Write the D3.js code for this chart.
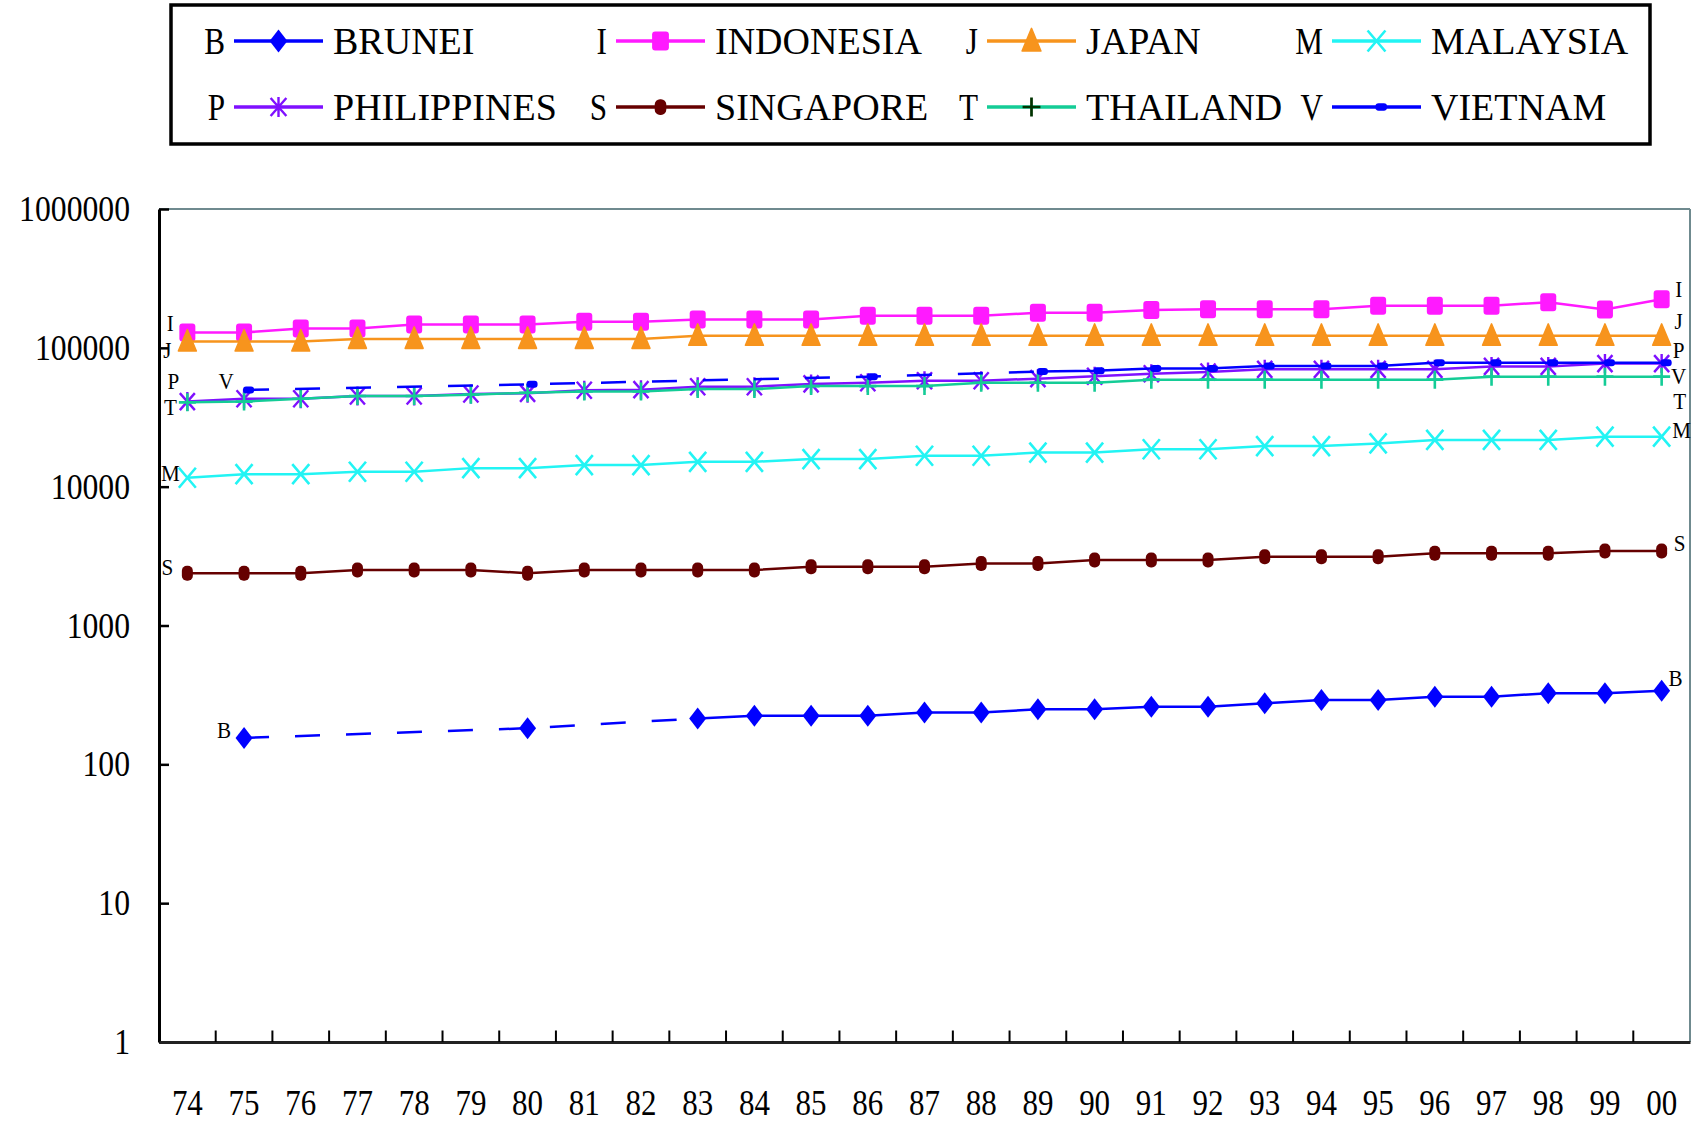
<!DOCTYPE html>
<html>
<head>
<meta charset="utf-8">
<script src="https://cdn.jsdelivr.net/npm/d3@7"></script>
<style>
html, body { margin: 0; padding: 0; background: #fff; }
svg { display: block; }
text { font-family: "Liberation Serif", "Times New Roman", serif; fill: #000; }
</style>
</head>
<body>
<svg id="chart" width="1697" height="1128"></svg>
<script>
// ---------------- DATA ----------------
const years = ["74","75","76","77","78","79","80","81","82","83","84","85","86","87","88","89","90","91","92","93","94","95","96","97","98","99","00"];
const yTickValues = [1, 10, 100, 1000, 10000, 100000, 1000000];

const brunei      = [null,155,null,null,null,null,182,null,null,214,224,224,224,236,236,249,249,260,260,275,291,291,307,307,325,325,339];
const indonesia   = [129000,129000,138000,138000,147000,147000,147000,154000,154000,160000,160000,160000,170000,170000,170000,179000,179000,187000,190000,190000,190000,201000,201000,201000,213000,189000,224000];
const japan       = [111000,111000,111000,116000,116000,116000,116000,116000,116000,122000,122000,122000,122000,122000,122000,122000,122000,122000,122000,122000,122000,122000,122000,122000,122000,122000,122000];
const malaysia    = [11600,12300,12300,12800,12800,13600,13600,14300,14300,15100,15100,15800,15800,16700,16700,17600,17600,18600,18600,19600,19600,20500,21700,21700,21700,22900,22900];
const philippines = [41000,43000,43000,45000,45000,46500,47000,49500,50000,52500,52500,55000,56000,58000,58000,60000,62500,65000,67000,70000,70000,70000,70000,73500,73500,77000,77000];
const singapore   = [2380,2380,2380,2510,2510,2510,2380,2510,2510,2510,2510,2650,2650,2650,2800,2800,2960,2960,2960,3130,3130,3130,3310,3310,3310,3440,3440];
const thailand    = [40500,41000,43000,45000,45000,46000,47500,48500,48500,50500,50500,53000,53000,53000,56000,56000,56000,59000,59000,59000,59000,59000,59000,62000,62000,62000,62000];
const vietnam     = [null,49700,null,null,null,null,54600,null,null,null,null,null,62000,null,null,67500,68300,71000,71000,74000,74000,74000,78000,78000,78000,78000,78000];

const seriesKeys   = ["B","I","J","M","P","S","T","V"];
const seriesNames  = ["BRUNEI","INDONESIA","JAPAN","MALAYSIA","PHILIPPINES","SINGAPORE","THAILAND","VIETNAM"];
const seriesValues = [brunei, indonesia, japan, malaysia, philippines, singapore, thailand, vietnam];

// ---------------- STYLE ----------------
const styles = {
  B: { color: "#0000ff", marker: "diamond",  left: [-20, -8],  right: [14, -13] },
  I: { color: "#ff1aff", marker: "square",   left: [-17, -9],  right: [17, -10] },
  J: { color: "#f7941d", marker: "triangle", left: [-20, 8],   right: [17, -15] },
  M: { color: "#22f4f4", marker: "x",        left: [-17, -5],  right: [20, -7] },
  P: { color: "#7f10ff", marker: "asterisk", left: [-14, -21], right: [17, -14] },
  S: { color: "#660000", marker: "pill",     left: [-20, -6],  right: [18, -8] },
  T: { color: "#14cc96", marker: "plus",     left: [-17, 5],   right: [18, 24], legendMarkerColor: "#003300" },
  V: { color: "#0000ff", marker: "bar",      left: [-18, -9],  right: [17, 13] }
};

const W = 1697, H = 1128;
const plot = { left: 159, right: 1690, top: 209, bottom: 1042 };

const svg = d3.select("#chart");
svg.append("rect").attr("width", W).attr("height", H).attr("fill", "#fff");

const x = d3.scaleBand().domain(years).range([plot.left, plot.right]).padding(0);
const xc = d => x(d) + x.bandwidth() / 2;
const y = d3.scaleLog().domain([1, 1000000]).range([plot.bottom, plot.top]);

function condense(sel, k) {
  sel.each(function () {
    const w = this.getComputedTextLength();
    d3.select(this).attr("textLength", w * k).attr("lengthAdjust", "spacingAndGlyphs");
  });
}

function drawMarker(g, type, color, scale) {
  const s = scale || 1;
  switch (type) {
    case "diamond":
      g.append("path").attr("d", `M0,${-11*s}L${8.5*s},0L0,${11*s}L${-8.5*s},0Z`).attr("fill", color);
      break;
    case "square":
      g.append("rect").attr("x", -8*s).attr("y", -9*s).attr("width", 16*s).attr("height", 18*s)
        .attr("rx", 3).attr("fill", color);
      break;
    case "triangle":
      g.append("path").attr("d", `M0,${-12*s}L${9*s},${9.5*s}L${-9*s},${9.5*s}Z`)
        .attr("fill", color).attr("stroke", color).attr("stroke-width", 1.5).attr("stroke-linejoin", "round");
      break;
    case "x":
      g.append("path").attr("d", `M${-8.5*s},${-10*s}L${8.5*s},${10*s}M${8.5*s},${-10*s}L${-8.5*s},${10*s}`)
        .attr("stroke", color).attr("stroke-width", 2.6).attr("fill", "none");
      break;
    case "asterisk":
      g.append("path").attr("d", `M${-7.5*s},${-8.5*s}L${7.5*s},${8.5*s}M${7.5*s},${-8.5*s}L${-7.5*s},${8.5*s}M0,${-9.5*s}L0,${9.5*s}`)
        .attr("stroke", color).attr("stroke-width", 2.4).attr("fill", "none");
      break;
    case "pill":
      g.append("rect").attr("x", -5.5*s).attr("y", -7.5*s).attr("width", 11*s).attr("height", 15*s)
        .attr("rx", 5*s).attr("fill", color);
      break;
    case "plus":
      g.append("path").attr("d", `M0,${-9*s}L0,${9*s}M${-8.5*s},0L${8.5*s},0`)
        .attr("stroke", color).attr("stroke-width", 2.6*s).attr("fill", "none");
      break;
    case "bar":
      g.append("rect").attr("x", -1*s).attr("y", -3.5*s).attr("width", 11*s).attr("height", 7*s)
        .attr("rx", 3*s).attr("fill", color);
      break;
  }
}

// ---------------- FRAME ----------------
svg.append("line").attr("x1", plot.left).attr("x2", plot.right).attr("y1", plot.top).attr("y2", plot.top)
  .attr("stroke", "#6f8a8f").attr("stroke-width", 2);
svg.append("line").attr("x1", plot.right).attr("x2", plot.right).attr("y1", plot.top).attr("y2", plot.bottom)
  .attr("stroke", "#6f8a8f").attr("stroke-width", 2);

// ---------------- Y AXIS ----------------
const yAxis = svg.append("g").attr("transform", `translate(${plot.left},0)`)
  .call(d3.axisLeft(y).tickValues(yTickValues).tickFormat(d3.format("d"))
    .tickSizeInner(-10).tickSizeOuter(0).tickPadding(29));
yAxis.select(".domain").attr("stroke", "#000").attr("stroke-width", 3);
yAxis.selectAll(".tick line").attr("stroke", "#000").attr("stroke-width", 2.5);
yAxis.selectAll(".tick text").attr("font-family", "Liberation Serif, Times New Roman, serif")
  .attr("font-size", 36).attr("fill", "#000").call(condense, 0.88);

// ---------------- X AXIS ----------------
const xAxis = svg.append("g").attr("transform", `translate(0,${plot.bottom})`)
  .call(d3.axisBottom(x).tickSize(0).tickPadding(0));
xAxis.select(".domain").attr("stroke", "#222").attr("stroke-width", 3.2);
xAxis.selectAll(".tick text").attr("font-family", "Liberation Serif, Times New Roman, serif")
  .attr("font-size", 36).attr("fill", "#000").attr("y", 73).attr("dy", 0).call(condense, 0.86);
xAxis.selectAll(".tickmark").data(years.slice(1)).enter().append("line")
  .attr("x1", d => x(d)).attr("x2", d => x(d)).attr("y1", 0).attr("y2", -11.5)
  .attr("stroke", "#000").attr("stroke-width", 2);

// ---------------- SERIES ----------------
const lineGen = d3.line().x(d => xc(years[d.i])).y(d => y(d.v));

seriesKeys.forEach((key, si) => {
  const st = styles[key];
  const vals = seriesValues[si];
  const pts = vals.map((v, i) => ({ i, v })).filter(d => d.v != null);
  const g = svg.append("g").attr("class", "series-" + key);

  const runs = [];
  for (let k = 0; k < pts.length - 1; k++) {
    const dashed = pts[k + 1].i - pts[k].i > 1;
    const last = runs[runs.length - 1];
    if (last && last.dashed === dashed) last.pts.push(pts[k + 1]);
    else runs.push({ dashed, pts: [pts[k], pts[k + 1]] });
  }
  runs.forEach(r => {
    g.append("path").attr("d", lineGen(r.pts)).attr("fill", "none")
      .attr("stroke", st.color).attr("stroke-width", 2.5)
      .attr("stroke-dasharray", r.dashed ? "25 26" : null);
  });

  pts.forEach(p => {
    const mg = g.append("g").attr("transform", `translate(${xc(years[p.i])},${y(p.v)})`);
    drawMarker(mg, st.marker, st.color, 1);
  });

  const first = pts[0], lastP = pts[pts.length - 1];
  g.append("text").attr("x", xc(years[first.i]) + st.left[0]).attr("y", y(first.v) + st.left[1])
    .attr("text-anchor", "middle").attr("dominant-baseline", "central")
    .attr("font-size", 24).text(key).call(condense, 0.88);
  g.append("text").attr("x", xc(years[lastP.i]) + st.right[0]).attr("y", y(lastP.v) + st.right[1])
    .attr("text-anchor", "middle").attr("dominant-baseline", "central")
    .attr("font-size", 24).text(key).call(condense, 0.88);
});

// ---------------- LEGEND ----------------
const legend = svg.append("g");
legend.append("rect").attr("x", 171).attr("y", 5).attr("width", 1479).attr("height", 139)
  .attr("fill", "#fff").attr("stroke", "#000").attr("stroke-width", 3.5);
const legCols = [234, 616, 987, 1332];
const legRows = [41, 107];
seriesKeys.forEach((key, si) => {
  const st = styles[key];
  const lx = legCols[si % 4], ly = legRows[Math.floor(si / 4)];
  legend.append("text").attr("x", lx - 9).attr("y", ly + 13).attr("text-anchor", "end")
    .attr("font-size", 38).text(key).call(condense, 0.82);
  legend.append("line").attr("x1", lx).attr("x2", lx + 89).attr("y1", ly).attr("y2", ly)
    .attr("stroke", st.color).attr("stroke-width", 3.5);
  const mg = legend.append("g").attr("transform", `translate(${lx + 44.5},${ly})`);
  drawMarker(mg, st.marker, st.legendMarkerColor || st.color, 1.05);
  legend.append("text").attr("x", lx + 99).attr("y", ly + 13).attr("font-size", 38).text(seriesNames[si]);
});
</script>
</body>
</html>
